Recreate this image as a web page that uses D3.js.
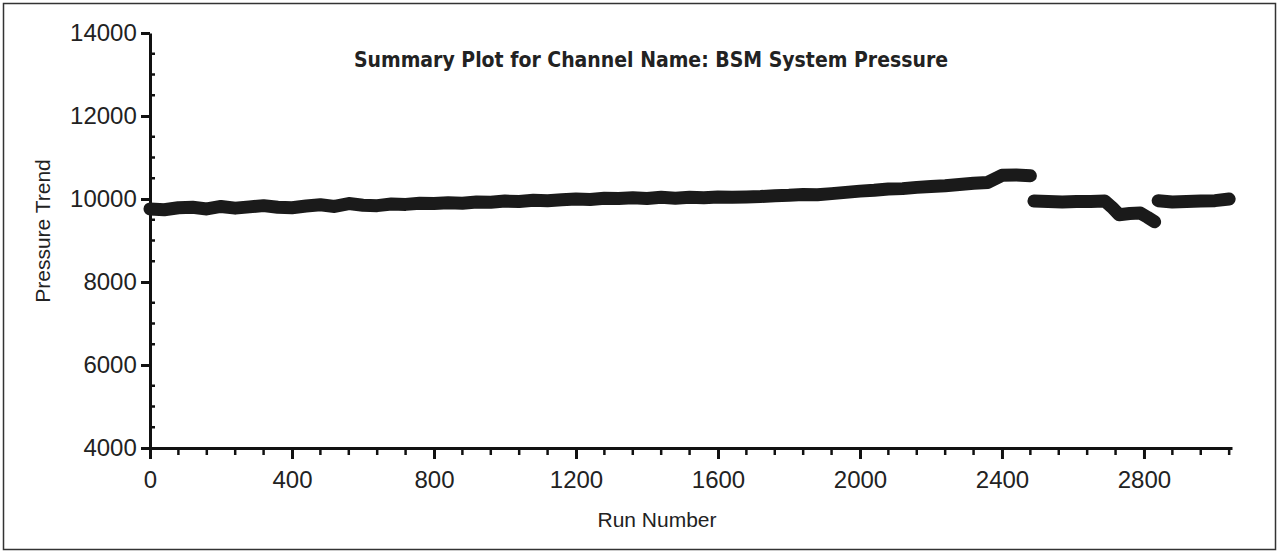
<!DOCTYPE html>
<html><head><meta charset="utf-8">
<script src="https://cdn.jsdelivr.net/npm/d3@7"></script>
<style>body{margin:0;background:#fff}svg{display:block}</style>
</head><body>
<svg id="c" width="1280" height="555"></svg>
<script>
const runs = [0,40,80,120,160,200,240,280,320,360,400,440,480,520,560,600,640,680,720,760,800,840,880,920,960,1000,1040,1080,1120,1160,1200,1240,1280,1320,1360,1400,1440,1480,1520,1560,1600,1640,1680,1720,1760,1800,1840,1880,1920,1960,2000,2040,2080,2120,2160,2200,2240,2280,2320,2360,2400,2440,2480,2485,
  2490,2530,2570,2610,2650,2690,2710,2730,2760,2790,2810,2830,2835,
  2840,2880,2920,2960,3000,3040];
const pressure = [9760,9740,9790,9800,9760,9820,9780,9810,9840,9800,9790,9830,9860,9820,9890,9850,9840,9880,9870,9900,9890,9910,9900,9930,9920,9950,9940,9970,9960,9980,10000,9990,10020,10010,10030,10010,10040,10020,10040,10030,10050,10040,10050,10060,10080,10090,10110,10100,10130,10160,10190,10210,10240,10250,10280,10300,10320,10350,10380,10400,10570,10580,10560,null,
  9950,9940,9930,9940,9940,9950,9800,9620,9650,9660,9560,9450,null,
  9960,9930,9940,9950,9960,10000];
const xTicks = [0,400,800,1200,1600,2000,2400,2800];
const yTicks = [4000,6000,8000,10000,12000,14000];
const titleText = "Summary Plot for Channel Name: BSM System Pressure";

const svg = d3.select("#c");
svg.append("rect").attr("x",3.5).attr("y",3.5).attr("width",1272).attr("height",546).attr("fill","none").attr("stroke","#333").attr("stroke-width",1.5);
const x = d3.scaleLinear().domain([0,3048]).range([150,1232]);
const y = d3.scaleLinear().domain([4000,14000]).range([448,33]);
const font = "'Liberation Sans', Arial, sans-serif";

const g = svg.append("g").attr("stroke","#111");
d3.range(0,3041,80).forEach(v=>{ if(v%400) g.append("line").attr("x1",x(v)).attr("x2",x(v)).attr("y1",448).attr("y2",455).attr("stroke-width",2.5);});
d3.range(4000,14001,500).forEach(v=>{ if(v%2000) g.append("line").attr("y1",y(v)).attr("y2",y(v)).attr("x1",150).attr("x2",155).attr("stroke-width",2.5);});
const xa = svg.append("g").attr("transform","translate(0,448)").call(d3.axisBottom(x).tickValues(xTicks).tickSize(11).tickSizeOuter(0).tickFormat(d3.format("d")));
const ya = svg.append("g").attr("transform","translate(150,0)").call(d3.axisLeft(y).tickValues(yTicks).tickSize(9).tickSizeOuter(0).tickFormat(d3.format("d")));
[xa,ya].forEach(a=>{a.select(".domain").attr("stroke","#111").attr("stroke-width",3);
  a.selectAll(".tick line").attr("stroke","#111").attr("stroke-width",3);
  a.selectAll("text").attr("font-family",font).attr("font-size",24).attr("fill","#222");});
xa.selectAll("text").attr("dy","1.1em");
ya.selectAll("text").attr("dx","-0.05em");
const line = d3.line().defined((d,i)=>pressure[i]!==null).x((d,i)=>x(runs[i])).y((d,i)=>y(pressure[i])).curve(d3.curveLinear);
svg.append("path").datum(runs).attr("d",line).attr("fill","none").attr("stroke","#1a1a1a").attr("stroke-width",13).attr("stroke-linejoin","round").attr("stroke-linecap","round");
svg.append("text").attr("x",651).attr("y",67).attr("text-anchor","middle").attr("font-family","'DejaVu Sans Condensed', 'DejaVu Sans', sans-serif").attr("font-weight","bold").attr("font-size",21).attr("fill","#222").text(titleText);
svg.append("text").attr("x",657).attr("y",527).attr("text-anchor","middle").attr("font-family",font).attr("font-size",21).attr("fill","#222").text("Run Number");
svg.append("text").attr("transform","translate(50,231) rotate(-90)").attr("text-anchor","middle").attr("font-family",font).attr("font-size",21).attr("fill","#222").text("Pressure Trend");
</script>
</body></html>
